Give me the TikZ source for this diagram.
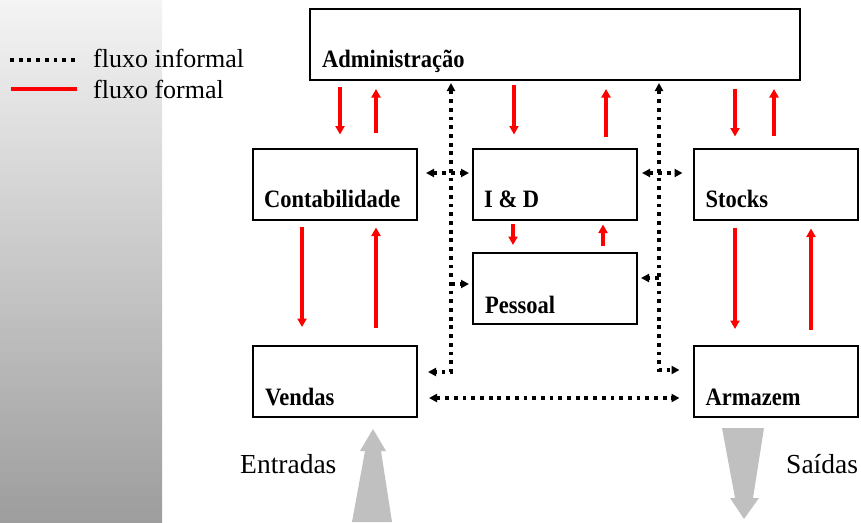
\documentclass[tikz,border=0pt]{standalone}
\usepackage{fontspec}
\setmainfont{Liberation Serif}
\usetikzlibrary{arrows.meta}
\definecolor{panelTop}{RGB}{244,244,244}
\definecolor{panelBottom}{RGB}{157,157,157}
\definecolor{flowRed}{RGB}{255,0,0}
\definecolor{bigArrow}{RGB}{192,192,192}
\begin{document}
\begin{tikzpicture}[x=1pt,y=-1pt,
  unit/.style={draw=black, line width=2pt, minimum width=164pt, minimum height=71pt, inner sep=0pt},
  unitname/.style={font=\fontsize{25}{25}\selectfont\bfseries, anchor=base west, inner sep=0pt, xscale=0.9},
  plaintext/.style={font=\fontsize{27.5}{27.5}\selectfont, anchor=base west, inner sep=0pt},
  formal/.style={draw=flowRed, line width=3.2pt, -{Triangle[length=8.5pt,width=9pt]}},
  informalline/.style={draw=black, line width=3.8pt, dash pattern=on 3.8pt off 4.9pt},
  informal/.style={informalline, {Triangle[length=8pt,width=8pt]}-{Triangle[length=8pt,width=8pt]}},
  informalone/.style={informalline, -{Triangle[length=8pt,width=8pt]}},
  bigarrow/.style={fill=bigArrow, draw=none}
]
\useasboundingbox (0,0) rectangle (861,522);

% shaded side panel
\shade[top color=panelTop, bottom color=panelBottom] (0,0) rectangle (162,522);

% legend
\coordinate (lgA) at (10,60);
\coordinate (lgB) at (78,60);
\coordinate (lgC) at (11,89);
\coordinate (lgD) at (77,89);
\draw[informalline] (lgA) -- (lgB);
\draw[draw=flowRed, line width=4pt] (lgC) -- (lgD);
\node[plaintext, font=\fontsize{26}{26}\selectfont] (lgInf) at (93,67) {fluxo informal};
\node[plaintext, font=\fontsize{26}{26}\selectfont] (lgFor) at (93,98) {fluxo formal};

% departments
\node[unit, minimum width=490pt] (admin) at (555,44.5) {};
\node[unit] (contab)  at (335,184) {};
\node[unit] (iandd)   at (555,184) {};
\node[unit] (stocks)  at (775.5,184) {};
\node[unit] (pessoal) at (555,288.5) {};
\node[unit] (vendas)  at (335,381.5) {};
\node[unit] (armazem) at (775.5,381.5) {};

\node[unitname] (tAdmin)   at ([shift={(13,-14)}]admin.south west)   {Administração};
\node[unitname] (tContab)  at ([shift={(12,-13)}]contab.south west)  {Contabilidade};
\node[unitname] (tIandD)   at ([shift={(12,-13)}]iandd.south west)   {I \& D};
\node[unitname] (tStocks)  at ([shift={(13,-13)}]stocks.south west)  {Stocks};
\node[unitname] (tPessoal) at ([shift={(13,-12)}]pessoal.south west) {Pessoal};
\node[unitname] (tVendas)  at ([shift={(13,-13)}]vendas.south west)  {Vendas};
\node[unitname] (tArmazem) at ([shift={(13,-13)}]armazem.south west) {Armazem};

% columns and rows used by the connectors
\coordinate (c1) at (340,0);
\coordinate (c2) at (376,0);
\coordinate (c3) at (514,0);
\coordinate (c4) at (606,0);
\coordinate (c5) at (735,0);
\coordinate (c6) at (774,0);
\coordinate (c7) at (302,0);
\coordinate (c8) at (513,0);
\coordinate (c9) at (603,0);
\coordinate (c10) at (811,0);
\coordinate (colL) at (451,0);
\coordinate (colR) at (659,0);
\coordinate (rowT) at (0,173);
\coordinate (rowP) at (0,284);
\coordinate (rowQ) at (0,278);
\coordinate (rowV) at (0,372);
\coordinate (rowW) at (0,370);
\coordinate (rowB) at (0,398);

% formal flows
\draw[formal, shorten <=6pt,  shorten >=13pt] (admin.south -| c1) -- (contab.north -| c1);
\draw[formal, shorten <=15pt, shorten >=8pt]  (contab.north -| c2) -- (admin.south -| c2);
\draw[formal, shorten <=4pt,  shorten >=13pt] (admin.south -| c3) -- (iandd.north -| c3);
\draw[formal, shorten <=11pt, shorten >=8pt]  (iandd.north -| c4) -- (admin.south -| c4);
\draw[formal, shorten <=8pt,  shorten >=11pt] (admin.south -| c5) -- (stocks.north -| c5);
\draw[formal, shorten <=12pt, shorten >=8pt]  (stocks.north -| c6) -- (admin.south -| c6);

\draw[formal, shorten <=6pt,  shorten >=18pt] (contab.south -| c7) -- (vendas.north -| c7);
\draw[formal, shorten <=17pt, shorten >=7pt]  (vendas.north -| c2) -- (contab.south -| c2);
\draw[formal, shorten <=3pt,  shorten >=7pt]  (iandd.south -| c8) -- (pessoal.north -| c8);
\draw[formal, shorten <=6pt,  shorten >=4pt]  (pessoal.north -| c9) -- (iandd.south -| c9);
\draw[formal, shorten <=7pt,  shorten >=16pt] (stocks.south -| c5) -- (armazem.north -| c5);
\draw[formal, shorten <=15pt, shorten >=8pt]  (armazem.north -| c10) -- (stocks.south -| c10);

% informal flows
\draw[informal, shorten <=2pt, shorten >=10pt] (admin.south -| colL) |- (vendas.east |- rowV);
\draw[informal, shorten <=2pt, shorten >=13pt] (admin.south -| colR) |- (armazem.west |- rowW);
\draw[informal, shorten <=8pt, shorten >=3pt]  (contab.east |- rowT) -- (iandd.west |- rowT);
\draw[informal, shorten <=4pt, shorten >=10pt] (iandd.east |- rowT) -- (stocks.west |- rowT);
\draw[informalone, shorten >=3pt] (colL |- rowP) -- (pessoal.west |- rowP);
\draw[informalone, shorten >=3pt] (colR |- rowQ) -- (pessoal.east |- rowQ);
\draw[informal, shorten <=11pt, shorten >=13pt] (vendas.east |- rowB) -- (armazem.west |- rowB);

% incoming and outgoing goods
\fill[bigarrow] (373,429) -- (386,451) -- (381,451) -- (392,522) -- (352,522) -- (365,451) -- (360,451) -- cycle;
\fill[bigarrow] (722,428) -- (764,428) -- (753,498) -- (759,498) -- (744,519) -- (730,498) -- (735,498) -- cycle;
\node[plaintext] (tIn)  at (240,473) {Entradas};
\node[plaintext] (tOut) at (786,473) {Saídas};
\end{tikzpicture}
\end{document}
